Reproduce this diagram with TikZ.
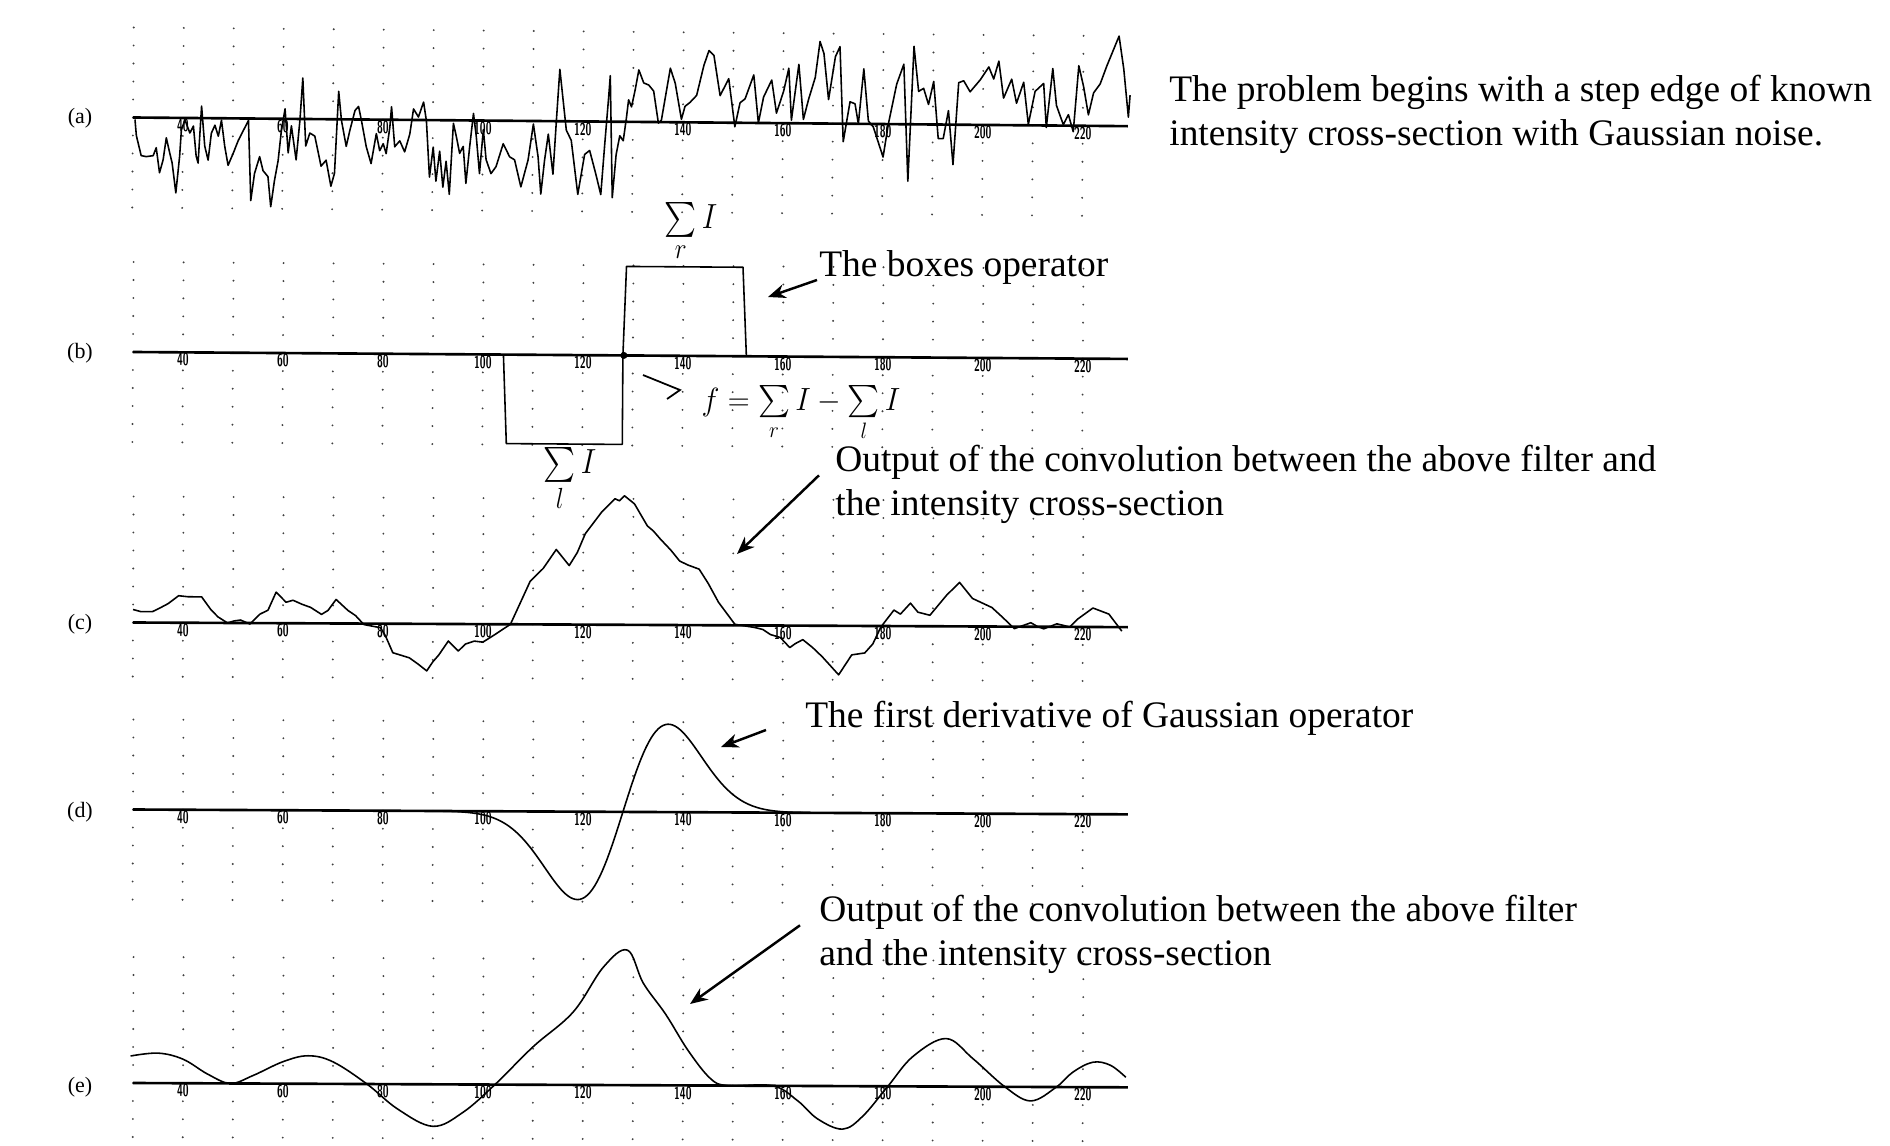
\documentclass[tikz,border=0pt]{standalone}
\usepackage{amsmath}
\usepackage{fontspec}
\setmainfont{Liberation Serif}
\usetikzlibrary{arrows.meta}
\tikzstyle{note} = [font=\fontsize{21.3}{25.5}\selectfont, inner sep=0pt, align=left]
\tikzstyle{panel} = [font=\fontsize{12.5}{14}\selectfont, inner sep=0pt]
\tikzstyle{tick} = [font=\sffamily\bfseries\fontsize{10}{10}\selectfont, xscale=0.6, inner sep=0pt]
\tikzstyle{hand} = [font=\fontsize{19}{22}\selectfont, yscale=1.15, inner sep=0pt]
\tikzstyle{axis} = [line width=1.5pt]
\tikzstyle{curve} = [line width=0.9pt, line join=round]
\tikzstyle{arrow} = [line width=1.4pt, -{Stealth[length=10pt, width=8pt]}]
\tikzset{plotarea/.style 2 args={shift={(133,#1)}, rotate=#2, x=0.1cm, y=0.02cm, shift={(-30,0)}}}
\newcommand{\dotgrid}[2]{\foreach \cx in {30,40,...,220} \foreach \ry in {#1,...,#2} \fill[black!75] (\cx,18*\ry) circle[radius=0.6pt];}
\newcommand{\ticklabels}{\foreach \tk in {40,60,...,220} \node[tick] at (\tk,-7.5) {\tk};}

\begin{document}
\begin{tikzpicture}[x=0.02cm, y=-0.02cm]
\useasboundingbox (0,0) rectangle (1890,1146);

\node (la) [panel] at (80,118) {(a)};
\node (lb) [panel] at (80,353) {(b)};
\node (lc) [panel] at (80,624) {(c)};
\node (ld) [panel] at (80,812) {(d)};
\node (le) [panel] at (80,1087) {(e)};

\begin{scope}[plotarea={117.5}{-0.5}]
\dotgrid{-5}{5}
\draw [axis] (30,0) -- (229,0);
\ticklabels
\draw [curve] plot coordinates {(30.4,-2) (30.7,-18) (31.7,-38) (32.7,-39) (34.1,-38) (34.7,-30) (35.4,-55) (36.1,-42) (36.7,-20) (37.4,-35) (37.9,-45) (38.7,-75) (39.4,-38) (39.7,-12) (40.4,-2) (41.4,-15) (42.1,-8) (42.7,-38) (43.1,-45) (43.7,12) (44.4,-28) (45.1,-42) (45.7,-15) (46.4,-7) (47.1,-18) (47.7,-2) (48.4,-28) (49.1,-47) (50.1,-35) (51.1,-22) (52.1,-12) (53.1,-2) (53.7,-82) (54.4,-55) (55.4,-38) (56.1,-52) (57.1,-58) (57.7,-88) (58.4,-62) (59.1,-42) (59.7,-12) (60.4,10) (61.1,-34) (61.7,-7) (62.7,-41) (63.4,-1) (63.9,41) (64.6,-27) (65.4,-14) (66.4,-17) (67.7,-47) (68.7,-41) (69.7,-67) (70.4,-54) (71.1,28) (71.7,-1) (72.7,-27) (73.4,-11) (74.4,9) (75.1,13) (75.7,-1) (76.7,-27) (77.7,-44) (78.7,-14) (79.4,-31) (80.1,-24) (80.7,-34) (81.4,-7) (81.7,13) (82.4,-27) (83.4,-21) (84.4,-32) (85.4,-14) (86.1,11) (87.1,3) (88.1,18) (88.7,-1) (89.4,-57) (90.1,-27) (90.7,-61) (91.4,-31) (92.1,-67) (92.7,-41) (93.4,-74) (94.1,-3) (94.7,-16) (95.4,-33) (96.1,-26) (96.7,-63) (97.4,-26) (98.1,7) (98.7,-16) (99.4,-53) (100.1,-9) (100.7,-39) (101.7,-53) (102.7,-46) (104.1,-23) (105.4,-36) (106.4,-39) (107.7,-66) (109.1,-39) (110.1,-3) (111.1,-36) (111.7,-73) (112.4,-39) (113.1,-13) (114.1,-53) (114.7,1) (115.3,52) (116.1,17) (116.7,-9) (117.7,-19) (119.1,-73) (120.4,-33) (121.4,-29) (122.7,-53) (123.7,-73) (124.4,-23) (125.1,24) (125.4,46) (126.0,-76) (126.7,-33) (127.4,-14) (128.1,-19) (128.7,4) (129.1,22) (129.7,15) (130.4,32) (131.1,52) (132.1,39) (133.1,37) (134.1,31) (135.1,-1) (135.7,2) (137.4,54) (138.4,39) (139.7,3) (140.4,16) (141.4,20) (142.7,27) (144.1,57) (145.1,72) (146.1,67) (147.4,27) (149.1,44) (150.4,-4) (151.4,20) (152.4,24) (154.1,48) (155.1,0) (156.1,26) (157.7,43) (158.7,10) (160.1,32) (161.1,55) (161.7,3) (163.1,59) (164.1,4) (165.1,24) (166.4,46) (167.3,82) (168.1,70) (169.1,24) (170.4,67) (171.3,77) (172.1,-18) (173.4,22) (174.4,20) (175.1,0) (176.1,55) (177.1,3) (178.1,-3) (180.1,-33) (181.1,0) (182.7,40) (184.1,60) (185.1,-57) (186.1,78) (187.1,33) (188.1,36) (189.1,20) (190.1,43) (191.1,-14) (192.1,-14) (193.1,14) (194.1,-40) (195.1,42) (196.1,44) (197.4,33) (199.4,45) (201.1,58) (202.1,46) (203.1,64) (204.1,27) (205.7,46) (206.7,22) (208.1,43) (209.1,1) (210.4,34) (212.1,42) (212.7,-2) (213.9,57) (214.7,20) (216.1,1) (217.1,11) (218.1,-6) (219.1,60) (220.1,39) (221.1,11) (222.1,33) (223.4,42) (224.7,60) (227.1,90) (228.1,57) (229.1,9) (229.4,31)};
\end{scope}

\begin{scope}[plotarea={352}{-0.4}]
\dotgrid{-5}{5}
\draw [axis] (30,0) -- (229,0);
\ticklabels
\draw [curve] (104.1,0) -- (104.8,-89) -- (128,-89) -- (128,0) -- (128.6,89) -- (151.9,89) -- (152.7,0);
\fill (128.2,0) circle[radius=2pt];
\end{scope}

\begin{scope}[plotarea={622.5}{-0.27}]
\dotgrid{-3}{7}
\draw [axis] (30,0) -- (229,0);
\ticklabels
\draw [curve] plot coordinates {(30,13) (31.5,11) (33.9,11) (35.5,15) (37,19) (39.1,27) (41,26) (43.7,26) (45.6,13) (47,6) (48.9,0) (50.2,2) (51.5,3) (53.4,-1) (55.4,9) (57,13) (58.6,31) (60.6,21) (62,23) (63.8,19) (65.5,16) (67.7,9) (69,13) (70.6,24) (73,13) (74.5,8) (76.2,-1) (79.5,-4) (80.5,-12) (82,-29) (85.3,-34) (87,-40) (88.8,-47) (90,-38) (91.2,-31) (93.1,-17) (95.1,-27) (96.5,-20) (98.3,-17) (100,-18) (102.2,-11) (105.5,0) (107.5,22) (109.4,43) (112,56) (114.6,75) (117.2,59) (118.8,72) (120.4,91) (123.7,113) (126.3,126) (127.2,124) (128.2,129) (130.2,121) (132.8,99) (134,94) (135.4,86) (137.5,75) (139.3,64) (141,60) (143.2,56) (145,42) (147.1,23) (150.4,1) (154.3,-2) (156,-4) (157.5,-9) (159.5,-12) (161.4,-22) (162.5,-18) (164,-14) (166,-22) (167.9,-31) (171.2,-49) (173.8,-29) (176.4,-27) (178,-18) (179.6,-1) (182.2,16) (183.5,12) (185.5,23) (187,14) (189.4,11) (192.7,31) (195.3,44) (197.9,28) (201.8,19) (204,9) (206.3,-2) (209.6,4) (211,0) (212.2,-2) (214.8,3) (217.4,0) (219,8) (222,19) (225.2,13) (227.8,-4)};
\end{scope}

\begin{scope}[plotarea={809.5}{-0.28}]
\dotgrid{-5}{5}
\draw [axis] (30,0) -- (229,0);
\ticklabels
\draw [curve] plot[domain=92:164, samples=150] (\x, {16.1*(\x-128)*exp(-((\x-128)*(\x-128))/162)});
\end{scope}

\begin{scope}[plotarea={1083}{-0.25}]
\dotgrid{-3}{7}
\draw [axis] (30,0) -- (229,0);
\ticklabels
\draw [curve] plot[smooth, tension=0.6] coordinates {(29.5,27) (35,30) (40,24) (45,9) (49.5,0) (54,8) (60,22) (65,28) (70,22) (76.8,0) (83,-25) (90,-42) (96,-28) (102.4,0) (110,38) (118,73) (124,118) (128.8,135) (132,102) (136.5,71) (141,35) (145.5,7) (149,0) (158,0) (163,-15) (167,-33) (172,-43) (176,-30) (181,0) (186,30) (192.6,48) (198,28) (204.4,0) (209.6,-14) (214.7,0) (218,15) (222,25) (225.5,22) (228.6,10)};
\end{scope}

\node (sr) [hand] at (691,232) {$\sum\limits_{r} I$};
\node (sl) [hand] at (570,480) {$\sum\limits_{l} I$};
\node (fd) [hand, font=\fontsize{18}{21}\selectfont, yscale=0.92] at (801,414) {$f = \sum\limits_{r} I - \sum\limits_{l} I$};
\draw [line width=1pt] (643,375) -- (680,390) -- (667,399);

\node (pb) [note, anchor=north west] at (1169,74.4) {The problem begins with a step edge of known\\intensity cross-section with Gaussian noise.};
\node (bx) [note, anchor=base west] at (819,276) {The boxes operator};
\node (oc) [note, anchor=north west] at (835,444.3) {Output of the convolution between the above filter and\\the intensity cross-section};
\node (dg) [note, anchor=base west] at (805,727) {The first derivative of Gaussian operator};
\node (oe) [note, anchor=north west] at (819,894.3) {Output of the convolution between the above filter\\and the intensity cross-section};

\coordinate (bxtip) at (768,297);
\coordinate (octip) at (737,554);
\coordinate (dgtip) at (721,747);
\coordinate (oetip) at (690,1004);
\draw [arrow] ([shift={(-2,4)}]bx.base west) -- (bxtip);
\draw [arrow] ([shift={(-16,31)}]oc.north west) -- (octip);
\draw [arrow] ([shift={(-39,3)}]dg.base west) -- (dgtip);
\draw [arrow] ([shift={(-19,31)}]oe.north west) -- (oetip);
\end{tikzpicture}
\end{document}
